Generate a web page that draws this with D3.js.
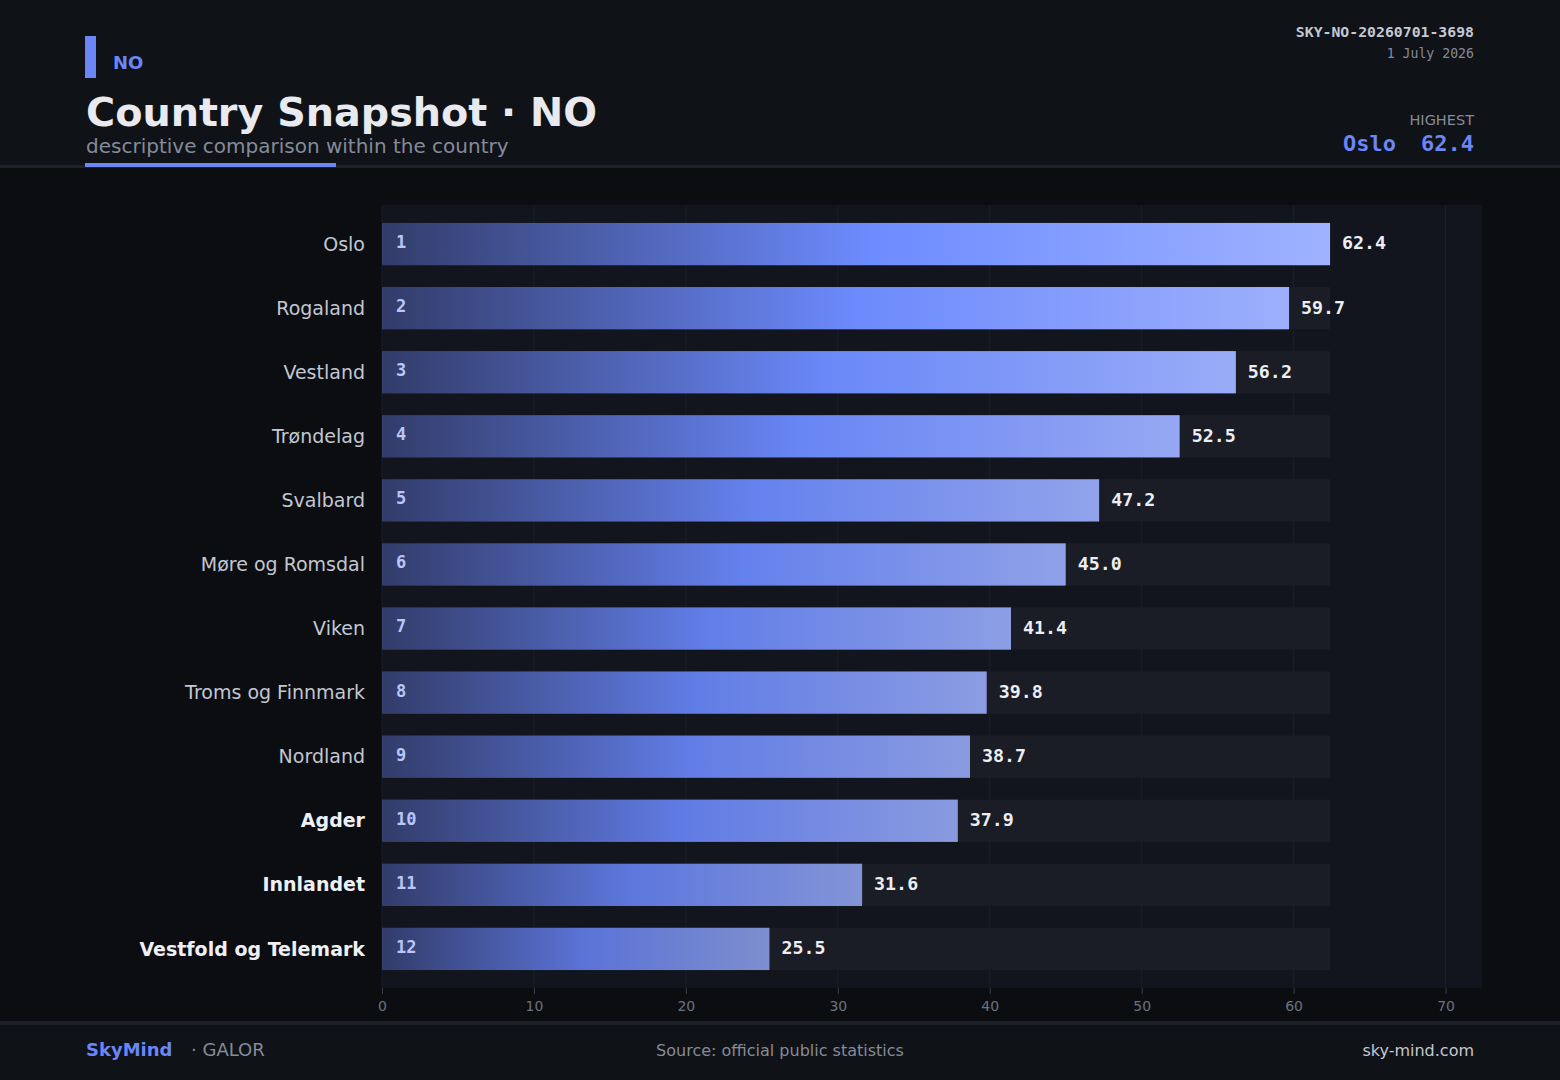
<!DOCTYPE html>
<html>
<head>
<meta charset="utf-8">
<script src="https://cdn.jsdelivr.net/npm/d3@7"></script>
<style>
  html, body { margin: 0; padding: 0; background: #0b0d11; }
  svg { display: block; }
  .sans { font-family: "DejaVu Sans", sans-serif; }
  .mono { font-family: "DejaVu Sans Mono", monospace; }
</style>
</head>
<body>
<svg id="chart" width="1560" height="1080"></svg>
<script>
// data
var regions = ['Oslo', 'Rogaland', 'Vestland', 'Trøndelag', 'Svalbard', 'Møre og Romsdal',
               'Viken', 'Troms og Finnmark', 'Nordland', 'Agder', 'Innlandet', 'Vestfold og Telemark'];
var values = [62.4, 59.7, 56.2, 52.5, 47.2, 45.0, 41.4, 39.8, 38.7, 37.9, 31.6, 25.5];
var emphasised = ['Agder', 'Innlandet', 'Vestfold og Telemark'];
var xTicks = [0, 10, 20, 30, 40, 50, 60, 70];

var W = 1560, H = 1080;
var accent = '#6b86f7';
var svg = d3.select('#chart');
var defs = svg.append('defs');

// background bands
svg.append('rect').attr('width', W).attr('height', H).attr('fill', '#0b0d11');
svg.append('rect').attr('width', W).attr('height', 165).attr('fill', '#0f1217');
svg.append('rect').attr('y', 165).attr('width', W).attr('height', 3).attr('fill', '#1d2129');
svg.append('rect').attr('y', 1022).attr('width', W).attr('height', 58).attr('fill', '#0f1217');
svg.append('rect').attr('y', 1021).attr('width', W).attr('height', 4).attr('fill', '#1d2129');

// header
svg.append('rect').attr('x', 85).attr('y', 36).attr('width', 11).attr('height', 42).attr('fill', accent);
svg.append('text').attr('class', 'sans').attr('x', 113).attr('y', 69)
  .attr('font-size', 18).attr('font-weight', 'bold').attr('fill', accent).text('NO');
svg.append('text').attr('class', 'sans').attr('x', 86).attr('y', 126)
  .attr('font-size', 39.7).attr('font-weight', 'bold').attr('fill', '#e8eaf0').text('Country Snapshot · NO');
svg.append('text').attr('class', 'sans').attr('x', 86).attr('y', 153)
  .attr('font-size', 20).attr('fill', '#858b99').text('descriptive comparison within the country');
svg.append('rect').attr('x', 85).attr('y', 163).attr('width', 251).attr('height', 4).attr('fill', accent);

svg.append('text').attr('class', 'mono').attr('x', 1474).attr('y', 37).attr('text-anchor', 'end')
  .attr('font-size', 14.8).attr('font-weight', 'bold').attr('fill', '#c4c8d2').text('SKY-NO-20260701-3698');
svg.append('text').attr('class', 'mono').attr('x', 1474).attr('y', 58).attr('text-anchor', 'end')
  .attr('font-size', 13.2).attr('fill', '#858b97').text('1 July 2026');
svg.append('text').attr('class', 'sans').attr('x', 1474).attr('y', 125).attr('text-anchor', 'end')
  .attr('font-size', 14.5).attr('fill', '#858b97').text('HIGHEST');

var topIdx = d3.maxIndex(values);
svg.append('text').attr('class', 'mono').attr('x', 1474).attr('y', 151).attr('text-anchor', 'end')
  .attr('font-size', 22).attr('font-weight', 'bold').attr('fill', accent)
  .text(values[topIdx].toFixed(1));
svg.append('text').attr('class', 'mono').attr('x', 1396).attr('y', 151).attr('text-anchor', 'end')
  .attr('font-size', 22).attr('font-weight', 'bold').attr('fill', accent)
  .text(regions[topIdx]);

// plot
var plotL = 382, plotR = 1482, plotT = 205, plotB = 988;
var vmax = d3.max(values), vmin = d3.min(values);
var x = d3.scaleLinear().domain([0, vmax + 10]).range([plotL, plotR]);
var y = d3.scaleBand().domain(regions).range([plotT, plotB]).paddingInner(0.34).paddingOuter(0.28);

svg.append('rect').attr('x', plotL).attr('y', plotT).attr('width', plotR - plotL).attr('height', plotB - plotT)
  .attr('fill', '#12151d');

svg.append('g').selectAll('line').data(xTicks).join('line')
  .attr('x1', function(d){ return x(d); }).attr('x2', function(d){ return x(d); })
  .attr('y1', plotT).attr('y2', plotB)
  .attr('stroke', '#1b1f28').attr('stroke-width', 1);

// axis
var axis = svg.append('g').attr('transform', 'translate(0,' + plotB + ')')
  .call(d3.axisBottom(x).tickValues(xTicks).tickSize(6).tickPadding(7).tickFormat(d3.format('d')));
axis.select('.domain').remove();
axis.selectAll('line').attr('stroke', '#3a3f4a');
axis.selectAll('text').attr('class', 'sans').attr('font-size', 14).attr('fill', '#6c7280');

// gradients: brighter for higher values
var midLo = d3.color('#5a73d6'), midHi = d3.color('#6d8cff');
var endLo = d3.color('#7e8ecf'), endHi = d3.color('#9fb2ff');
regions.forEach(function(r, i) {
  var t = (values[i] - vmin) / (vmax - vmin);
  var g = defs.append('linearGradient').attr('id', 'grad' + i)
    .attr('x1', '0%').attr('x2', '100%').attr('y1', '0%').attr('y2', '0%');
  g.append('stop').attr('offset', '0%').attr('stop-color', '#323c6a');
  g.append('stop').attr('offset', '52%').attr('stop-color', d3.interpolateRgb(midLo, midHi)(t));
  g.append('stop').attr('offset', '100%').attr('stop-color', d3.interpolateRgb(endLo, endHi)(t));
});

var rows = svg.append('g').selectAll('g').data(regions).join('g');

// track
rows.append('rect')
  .attr('x', x(0)).attr('y', function(d){ return y(d); })
  .attr('width', x(vmax) - x(0)).attr('height', y.bandwidth())
  .attr('fill', '#1a1d25');

// bars
rows.append('rect')
  .attr('x', x(0)).attr('y', function(d){ return y(d); })
  .attr('width', function(d, i){ return x(values[i]) - x(0); })
  .attr('height', y.bandwidth())
  .attr('fill', function(d, i){ return 'url(#grad' + i + ')'; });

// rank
rows.append('text').attr('class', 'mono')
  .attr('x', x(0) + 14).attr('y', function(d){ return y(d) + y.bandwidth() / 2 - 2; })
  .attr('dy', '0.35em').attr('font-size', 17).attr('font-weight', 'bold').attr('fill', '#bac6f7')
  .text(function(d, i){ return i + 1; });

// values
rows.append('text').attr('class', 'mono')
  .attr('x', function(d, i){ return x(values[i]) + 12; })
  .attr('y', function(d){ return y(d) + y.bandwidth() / 2 - 1; })
  .attr('dy', '0.35em').attr('font-size', 18.3).attr('font-weight', 'bold').attr('fill', '#eceef3')
  .text(function(d, i){ return values[i].toFixed(1); });

// category labels
rows.append('text').attr('class', 'sans')
  .attr('x', 365).attr('y', function(d){ return y(d) + y.bandwidth() / 2; })
  .attr('dy', '0.35em').attr('text-anchor', 'end').attr('font-size', 19)
  .attr('font-weight', function(d){ return emphasised.indexOf(d) >= 0 ? 'bold' : 'normal'; })
  .attr('fill', function(d){ return emphasised.indexOf(d) >= 0 ? '#eef0f5' : '#c2c7d1'; })
  .text(function(d){ return d; });

// footer
svg.append('text').attr('class', 'sans').attr('x', 86).attr('y', 1056)
  .attr('font-size', 18).attr('font-weight', 'bold').attr('fill', accent).text('SkyMind');
svg.append('text').attr('class', 'sans').attr('x', 191).attr('y', 1056)
  .attr('font-size', 18).attr('fill', '#858b97').text('· GALOR');
svg.append('text').attr('class', 'sans').attr('x', 780).attr('y', 1056).attr('text-anchor', 'middle')
  .attr('font-size', 16).attr('fill', '#858b97').text('Source: official public statistics');
svg.append('text').attr('class', 'sans').attr('x', 1474).attr('y', 1056).attr('text-anchor', 'end')
  .attr('font-size', 16).attr('fill', '#c4c8d2').text('sky-mind.com');
</script>
</body>
</html>
